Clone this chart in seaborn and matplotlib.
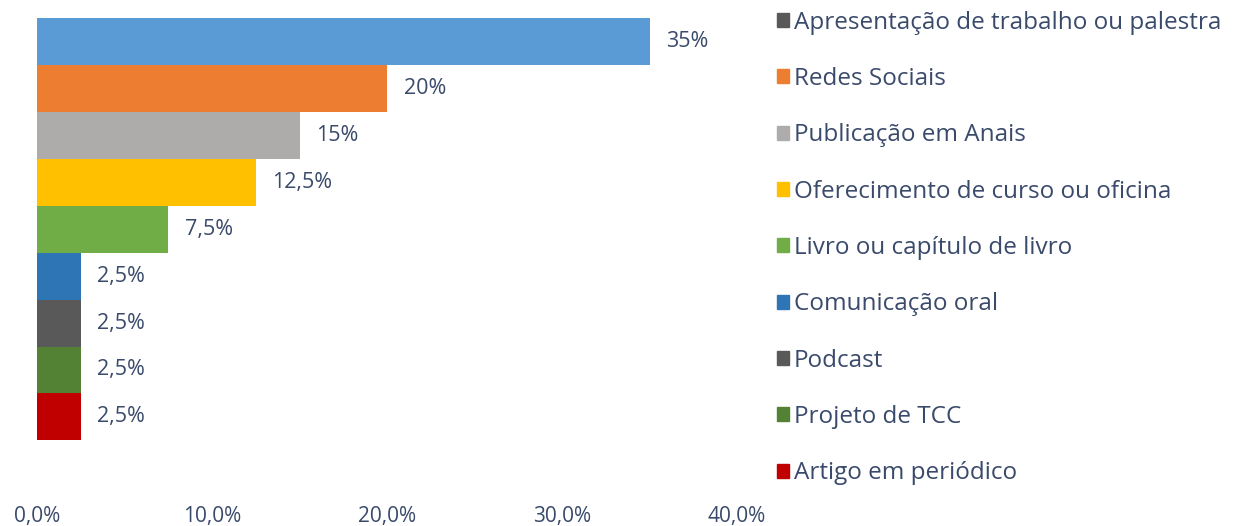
import matplotlib
matplotlib.use("Agg")
import matplotlib.pyplot as plt
import matplotlib.patches as mpatches
import pandas as pd
import seaborn as sns

sns.set_theme(style="white")
plt.rcParams['font.family'] = ['Open Sans', 'DejaVu Sans']

# data
categorias = ['Apresentação de trabalho ou palestra', 'Redes Sociais', 'Publicação em Anais',
              'Oferecimento de curso ou oficina', 'Livro ou capítulo de livro', 'Comunicação oral',
              'Podcast', 'Projeto de TCC', 'Artigo em periódico']
valores = [35, 20, 15, 12.5, 7.5, 2.5, 2.5, 2.5, 2.5]
rotulos = ['35%', '20%', '15%', '12,5%', '7,5%', '2,5%', '2,5%', '2,5%', '2,5%']
cores_barras = ['#5B9BD5', '#ED7D31', '#AEABAB', '#FFC000', '#70AD47',
                '#2E75B6', '#595959', '#548235', '#C00000']
cores_legenda = ['#595959', '#ED7D31', '#AEABAB', '#FFC000', '#70AD47',
                 '#2E75B6', '#595959', '#548235', '#C00000']
ticks = [0, 10, 20, 30, 40]
tick_labels = ['0,0%', '10,0%', '20,0%', '30,0%', '40,0%']

texto = '#3A4A6B'

df = pd.DataFrame({'cat': categorias, 'val': valores})

fig = plt.figure(figsize=(12.38, 5.26), dpi=100)
ax = fig.add_axes([37/1238, 1 - 492/526, 700/1238, (492 - 18)/526])
sns.barplot(data=df, y='cat', x='val', hue='cat', palette=cores_barras, orient='h',
            width=1.0, dodge=False, legend=False, ax=ax, saturation=1, linewidth=0)

for cont, lab in zip(ax.containers, rotulos):
    ax.bar_label(cont, labels=[lab], padding=12, fontsize=15.5, color=texto)

ax.set_xlim(0, 40)
ax.set_ylim(9.6, -0.5)
ax.set_xticks(ticks)
ax.set_xticklabels(tick_labels, fontsize=15, color=texto)
ax.set_yticks([])
ax.set_xlabel('')
ax.set_ylabel('')
ax.tick_params(axis='x', length=0, pad=10)
sns.despine(ax=ax, left=True, bottom=True)

handles = [mpatches.Patch(color=c, label=l) for c, l in zip(cores_legenda, categorias)]
leg = fig.legend(handles=handles, loc='upper left', bbox_to_anchor=(767/1238, 1 - 1/526),
                 frameon=False, fontsize=17.5, labelspacing=1.33, handlelength=0.5,
                 handleheight=0.5, handletextpad=0.2, borderaxespad=0)
for t in leg.get_texts():
    t.set_color(texto)

fig.savefig('out.png', dpi=100)
